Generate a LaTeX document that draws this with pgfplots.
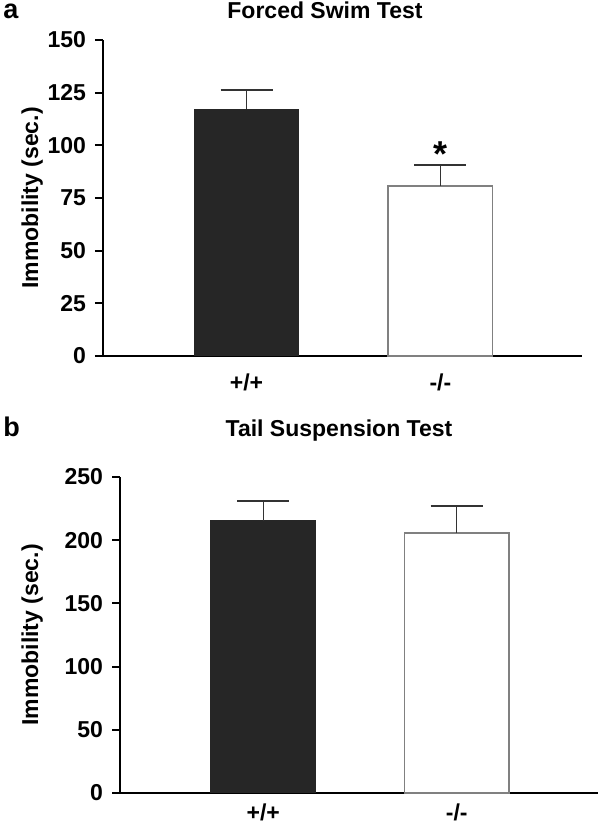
\documentclass[border=0pt]{standalone}
\usepackage{fontspec}
\setmainfont{Liberation Sans}
\usepackage{pgfplots}
\pgfplotsset{compat=1.18}
\definecolor{barblack}{HTML}{262626}
\definecolor{edgegray}{HTML}{808080}
\definecolor{errgray}{HTML}{333333}

\pgfplotsset{
  panel/.style={
    scale only axis,
    anchor=south west,
    axis x line=bottom,
    axis y line=left,
    axis line style={line width=1pt,-},
    xmin=-0.74, xmax=1.73,
    xtick={0,1},
    xticklabels={+/+,-/-},
    x tick style={draw=none},
    y tick style={line width=1pt,black},
    tick align=outside,
    major tick length=4pt,
    yticklabel style={xshift=-1pt},
    tick label style={font=\fontsize{11.5}{13}\selectfont\bfseries},
    label style={font=\fontsize{11.5}{13}\selectfont\bfseries},
    /pgf/number format/assume math mode=true,
    ylabel={Immobility (sec.)},
    clip=false,
  },
  blackbar/.style={ybar, bar width=0.54, bar shift=0pt, fill=barblack, draw=barblack, line width=0.5pt,
    error bars/.cd, y dir=plus, y explicit,
    error bar style={line width=0.7pt,errgray},
    error mark options={rotate=90,mark size=13pt,line width=0.7pt,errgray}},
  whitebar/.style={ybar, bar width=0.54, bar shift=0pt, fill=white, draw=edgegray, line width=0.6pt,
    error bars/.cd, y dir=plus, y explicit,
    error bar style={line width=0.7pt,errgray},
    error mark options={rotate=90,mark size=13pt,line width=0.7pt,errgray}},
}

\begin{document}
\begin{tikzpicture}
% Panel a
\begin{axis}[panel,
  at={(51.5pt,234pt)},
  width=239.5pt, height=158pt,
  ymin=0, ymax=150, ytick={0,25,50,75,100,125,150},
  xticklabel style={yshift=-1.5pt},
  ylabel style={at={(axis description cs:-0.1357,0.5)}, anchor=base},
]
\addplot[blackbar] coordinates {(0,117.2) +- (0,9.0)};
\addplot[whitebar] coordinates {(1,80.7) +- (0,9.9)};
\node[font=\fontsize{18}{18}\selectfont\bfseries, anchor=base, inner sep=0pt] at (axis cs:1,90) {*};
\end{axis}
\node[anchor=base, inner sep=0pt, font=\fontsize{11.5}{13}\selectfont\bfseries] at (162.5pt,402.5pt) {Forced Swim Test};
\node[anchor=base west, inner sep=0pt, font=\fontsize{13.5}{15}\selectfont\bfseries] at (1.5pt,402.5pt) {a};

% Panel b
\begin{axis}[panel,
  at={(60pt,15.5pt)},
  width=239pt, height=158pt,
  ymin=0, ymax=250, ytick={0,50,100,150,200,250},
  xticklabel style={yshift=2pt},
  ylabel style={at={(axis description cs:-0.1715,0.5)}, anchor=base},
]
\addplot[blackbar] coordinates {(0,215.2) +- (0,15.8)};
\addplot[whitebar] coordinates {(1,205.7) +- (0,21.3)};
\end{axis}
\node[anchor=base, inner sep=0pt, font=\fontsize{11.5}{13}\selectfont\bfseries] at (169.5pt,193.5pt) {Tail Suspension Test};
\node[anchor=base west, inner sep=0pt, font=\fontsize{13.5}{15}\selectfont\bfseries] at (1.5pt,193.5pt) {b};

\pgfresetboundingbox
\useasboundingbox (0,0) rectangle (300pt,412pt);
\end{tikzpicture}
\end{document}
